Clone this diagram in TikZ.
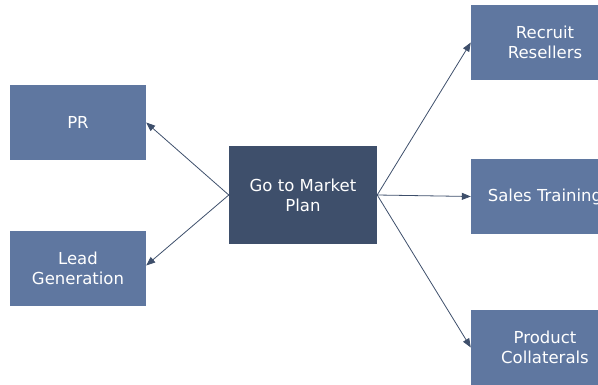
\documentclass[tikz,border=0pt]{standalone}
\usepackage{fontspec}
\setmainfont{DejaVu Sans}
\usetikzlibrary{arrows.meta}
\definecolor{boxblue}{HTML}{5F77A0}
\definecolor{boxdark}{HTML}{3E4F6B}
\definecolor{arrowc}{HTML}{3E4F6B}
\begin{document}
\begin{tikzpicture}[x=1pt,y=-1pt,
  base/.style={inner sep=0pt, text=white, align=center,
    font=\fontsize{16.5}{20}\selectfont},
  side/.style={base, fill=boxblue, minimum width=136pt, minimum height=75pt},
  rside/.style={base, fill=boxblue, minimum width=148pt, minimum height=75pt},
  hub/.style={base, fill=boxdark, minimum width=148pt, minimum height=98pt},
  conn/.style={draw=arrowc, line width=0.8pt, -{Triangle[length=9pt,width=7pt]}}]
\useasboundingbox (0,0) rectangle (598,385);
\begin{scope}
\clip (0,0) rectangle (598,385);
\node[side] (pr) at (78,122.5) {PR};
\node[side] (lead) at (78,268.5) {Lead\\Generation};
\node[hub] (hub) at (303,195) {Go to Market\\Plan};
\node[rside] (rec) at (545,42.5) {Recruit\\Resellers};
\node[rside] (sales) at (545,196.5) {Sales Training};
\node[rside] (prod) at (545,347.5) {Product\\Collaterals};
\end{scope}
\draw[conn] (hub.west) -- (pr.east);
\draw[conn] (hub.west) -- ([yshift=3pt]lead.east);
\draw[conn] (hub.east) -- (rec.west);
\draw[conn] (hub.east) -- (sales.west);
\draw[conn] (hub.east) -- (prod.west);
\end{tikzpicture}
\end{document}
